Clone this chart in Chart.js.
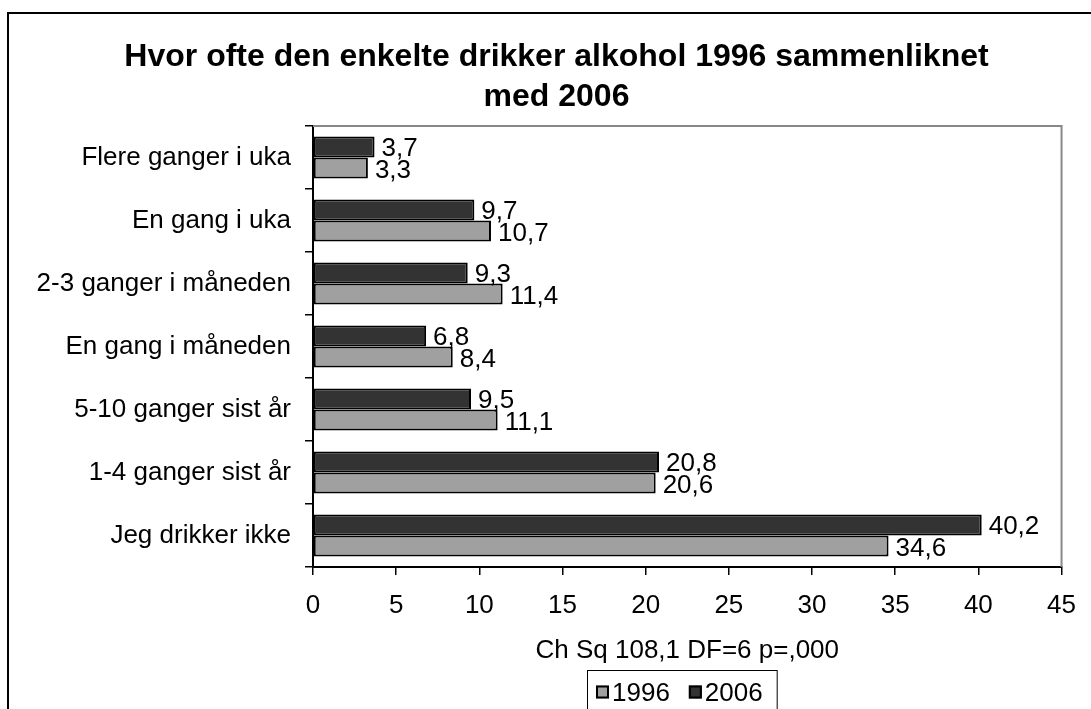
<!DOCTYPE html>
<html>
<head>
<meta charset="utf-8">
<script src="https://cdn.jsdelivr.net/npm/chart.js@4.4.0/dist/chart.umd.min.js"></script>
<style>
  html, body { margin: 0; padding: 0; background: #fff; }
  #wrap { position: relative; width: 1091px; height: 709px; }
</style>
</head>
<body>
<div id="wrap"><canvas id="chart"></canvas></div>
<script>
const categories = [
  "Flere ganger i uka",
  "En gang i uka",
  "2-3 ganger i måneden",
  "En gang i måneden",
  "5-10 ganger sist år",
  "1-4 ganger sist år",
  "Jeg drikker ikke"
];
const values1996 = [3.3, 10.7, 11.4, 8.4, 11.1, 20.6, 34.6];
const values2006 = [3.7, 9.7, 9.3, 6.8, 9.5, 20.8, 40.2];
const xTickValues = [0, 5, 10, 15, 20, 25, 30, 35, 40, 45];
const xTitle = "Ch Sq 108,1 DF=6 p=,000";
const chartTitle = ["Hvor ofte den enkelte drikker alkohol 1996 sammenliknet", "med 2006"];

const FONT = '"Liberation Sans", Arial, Helvetica, sans-serif';
Chart.defaults.font.family = FONT;
Chart.defaults.color = "#000";

// comma as decimal mark
const fmt = v => v.toFixed(1).replace(".", ",");

// outer frame (top + left only) and the grey top/right edge of the plot box
const framePlugin = {
  id: "frame",
  afterLayout(chart) {
    // title sits a little right of the canvas centre
    if (chart.titleBlock) chart.titleBlock.left = 46;
  },
  beforeDraw(chart) {
    const { ctx, width, height } = chart;
    ctx.save();
    ctx.fillStyle = "#fff";
    ctx.fillRect(0, 0, width, height);
    ctx.strokeStyle = "#000";
    ctx.lineWidth = 2;
    ctx.beginPath();
    ctx.moveTo(8, height);
    ctx.lineTo(8, 13);
    ctx.lineTo(width, 13);
    ctx.stroke();
    ctx.restore();
  },
  beforeDatasetsDraw(chart) {
    const { ctx, chartArea: a } = chart;
    ctx.save();
    ctx.strokeStyle = "#888";
    ctx.lineWidth = 2;
    ctx.beginPath();
    ctx.moveTo(a.left, a.top);
    ctx.lineTo(a.right, a.top);
    ctx.lineTo(a.right, a.bottom);
    ctx.stroke();
    ctx.restore();
  }
};

// value labels just past the end of each bar
const valueLabels = {
  id: "valueLabels",
  afterDatasetsDraw(chart) {
    const ctx = chart.ctx;
    ctx.save();
    ctx.font = "26px " + FONT;
    ctx.fillStyle = "#000";
    ctx.textAlign = "left";
    ctx.textBaseline = "alphabetic";
    chart.data.datasets.forEach((ds, i) => {
      chart.getDatasetMeta(i).data.forEach((bar, j) => {
        ctx.fillText(fmt(ds.data[j]), bar.x + 7, bar.y + 9.5);
      });
    });
    ctx.restore();
  }
};

// boxed legend centred under the plot, 1996 first
const boxLegend = {
  id: "boxLegend",
  afterDraw(chart) {
    const { ctx, chartArea: a } = chart;
    const top = 670, midY = 692;
    const sq = 13, gap = 3, itemGap = 19, padL = 9, padR = 14;
    ctx.save();
    ctx.font = "26px " + FONT;
    const items = [...chart.data.datasets].reverse().map(ds => ({
      label: ds.label,
      color: ds.backgroundColor,
      w: ctx.measureText(ds.label).width
    }));
    const inner = items.reduce((s, it) => s + sq + gap + it.w, 0) + itemGap * (items.length - 1);
    const boxW = inner + padL + padR;
    let x = Math.round((a.left + a.right) / 2 - boxW / 2) - 5;
    ctx.strokeStyle = "#000";
    ctx.lineWidth = 1;
    ctx.strokeRect(x + 0.5, top + 0.5, boxW, chart.height);
    x += padL;
    items.forEach(it => {
      ctx.fillStyle = it.color;
      ctx.fillRect(x, midY - sq / 2, sq, sq);
      ctx.lineWidth = 2;
      ctx.strokeRect(x + 1, midY - sq / 2 + 1, sq - 2, sq - 2);
      ctx.fillStyle = "#000";
      ctx.textBaseline = "alphabetic";
      ctx.fillText(it.label, x + sq + gap, midY + 9.3);
      x += sq + gap + it.w + itemGap;
    });
    ctx.restore();
  }
};

new Chart(document.getElementById("chart"), {
  type: "bar",
  data: {
    labels: categories,
    datasets: [
      {
        label: "2006",
        data: values2006,
        backgroundColor: "#333333",
        borderColor: "#000",
        borderWidth: 2,
        borderSkipped: false
      },
      {
        label: "1996",
        data: values1996,
        backgroundColor: "#a0a0a0",
        borderColor: "#000",
        borderWidth: 2,
        borderSkipped: false
      }
    ]
  },
  options: {
    indexAxis: "y",
    responsive: true,
    maintainAspectRatio: false,
    animation: false,
    layout: { padding: { left: 20, right: 24, top: 0, bottom: 39 } },
    datasets: { bar: { categoryPercentage: 0.667, barPercentage: 1.0 } },
    plugins: {
      legend: { display: false },
      tooltip: { enabled: false },
      title: {
        display: true,
        text: chartTitle,
        color: "#000",
        font: { size: 32, weight: "bold", lineHeight: 1.25 },
        padding: { top: 37, bottom: 9 }
      }
    },
    scales: {
      x: {
        min: xTickValues[0],
        max: xTickValues[xTickValues.length - 1],
        afterBuildTicks: s => { s.ticks = xTickValues.map(v => ({ value: v })); },
        afterFit: s => { s.height = 103; },
        ticks: { font: { size: 26 }, color: "#000", padding: 15 },
        grid: { drawOnChartArea: false, drawTicks: true, tickLength: 8, color: "#000", lineWidth: 1.5 },
        border: { color: "#000", width: 2 },
        title: {
          display: true,
          text: xTitle,
          color: "#000",
          font: { size: 26, lineHeight: 1.2 },
          padding: { top: 0, bottom: 4 }
        }
      },
      y: {
        afterFit: s => { s.width = 293; },
        ticks: { font: { size: 26 }, color: "#000", padding: 14 },
        grid: { drawOnChartArea: false, drawTicks: true, tickLength: 8, color: "#000", lineWidth: 1.5 },
        border: { color: "#000", width: 2 }
      }
    }
  },
  plugins: [framePlugin, valueLabels, boxLegend]
});
</script>
</body>
</html>
